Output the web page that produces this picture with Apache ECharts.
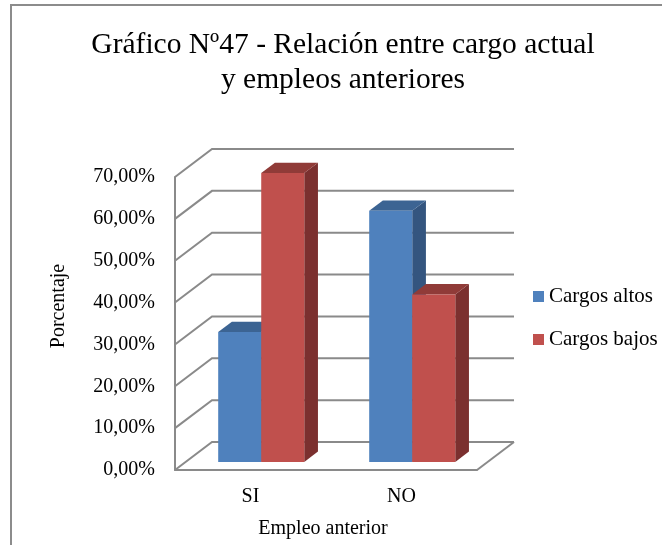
<!DOCTYPE html>
<html>
<head>
<meta charset="utf-8">
<script src="https://cdn.jsdelivr.net/npm/echarts@6/dist/echarts.min.js"></script>
<style>
  html, body { margin: 0; padding: 0; background: #fff; }
  #chart { width: 662px; height: 545px; }
</style>
</head>
<body>
<div id="chart"></div>
<script>
// Data
const categories = ['SI', 'NO'];
const seriesNames = ['Cargos altos', 'Cargos bajos'];
const cargosAltos = [0.31, 0.60];
const cargosBajos = [0.69, 0.40];
const yTicks = [0, 0.1, 0.2, 0.3, 0.4, 0.5, 0.6, 0.7];

// Styling / 3D projection constants
const FONT = 'Liberation Serif';
const DEPTH = [37, -28];      // pixel offset from front plane to back wall
const BAR_FRONT = 0.29;       // bar front face, as fraction of depth
const BAR_DEPTH = 0.37;       // bar thickness, as fraction of depth
const BAR_WIDTH = 0.285;      // bar width as fraction of category band
const GRID_COLOR = '#8a8a8a';
const faces = [
  { front: '#4F81BD', side: '#34557F', top: '#3C6493' },
  { front: '#C0504D', side: '#7B302F', top: '#903B38' }
];

const chart = echarts.init(document.getElementById('chart'), null, { renderer: 'canvas' });

// Side wall, back wall gridlines and floor edge, projected from the front plane
function renderWalls(params, api) {
  const band = api.size([1, 0])[0];
  const c0 = api.coord([0, 0]);
  const xl = c0[0] - band / 2;
  const xr = xl + band * categories.length;
  const children = [];
  yTicks.forEach(v => {
    const y = api.coord([0, v])[1];
    children.push({
      type: 'polyline',
      shape: { points: [[xl, y], [xl + DEPTH[0], y + DEPTH[1]], [xr + DEPTH[0], y + DEPTH[1]]] },
      style: { stroke: GRID_COLOR, lineWidth: 2, fill: null }
    });
  });
  const yb = c0[1];
  children.push({
    type: 'line',
    shape: { x1: xr, y1: yb, x2: xr + DEPTH[0], y2: yb + DEPTH[1] },
    style: { stroke: GRID_COLOR, lineWidth: 2 }
  });
  return { type: 'group', children: children, silent: true };
}

// Box-shaped bar: side face, top face, front face
function makeBarRenderer(sIdx) {
  return function (params, api) {
    const cat = api.value(0);
    const val = api.value(1);
    const band = api.size([1, 0])[0];
    const w = band * BAR_WIDTH;
    const base = api.coord([cat, 0]);
    const top = api.coord([cat, val]);
    const ox = DEPTH[0] * BAR_FRONT, oy = DEPTH[1] * BAR_FRONT;
    const bx = DEPTH[0] * BAR_DEPTH, by = DEPTH[1] * BAR_DEPTH;
    const x0 = base[0] - w + sIdx * w + ox;
    const x1 = x0 + w;
    const yb = base[1] + oy;
    const yt = top[1] + oy;
    const f = faces[sIdx];
    return {
      type: 'group',
      children: [
        {
          type: 'polygon',
          shape: { points: [[x1, yt], [x1 + bx, yt + by], [x1 + bx, yb + by], [x1, yb]] },
          style: { fill: f.side }
        },
        {
          type: 'polygon',
          shape: { points: [[x0, yt], [x0 + bx, yt + by], [x1 + bx, yt + by], [x1, yt]] },
          style: { fill: f.top }
        },
        {
          type: 'rect',
          shape: { x: x0, y: yt, width: w, height: yb - yt },
          style: { fill: f.front }
        }
      ]
    };
  };
}

const option = {
  animation: false,
  backgroundColor: '#ffffff',
  grid: { left: 175, top: 177, width: 302, height: 293, containLabel: false },
  xAxis: {
    type: 'category',
    data: categories,
    axisLine: { show: true, lineStyle: { color: GRID_COLOR, width: 2 } },
    axisTick: { show: false },
    axisLabel: { fontFamily: FONT, fontSize: 20, color: '#000', margin: 17 },
    splitLine: { show: false }
  },
  yAxis: {
    type: 'value',
    min: 0,
    max: 0.7,
    interval: 0.1,
    axisLine: { show: true, lineStyle: { color: GRID_COLOR, width: 2 } },
    axisTick: { show: false },
    splitLine: { show: false },
    axisLabel: {
      fontFamily: FONT, fontSize: 20, color: '#000', margin: 20,
      formatter: v => (v * 100).toFixed(2).replace('.', ',') + '%'
    }
  },
  legend: {
    orient: 'vertical',
    left: 533,
    top: 286,
    padding: 0,
    itemWidth: 11,
    itemHeight: 11,
    itemGap: 22,
    textStyle: { fontFamily: FONT, fontSize: 21, color: '#000' },
    data: seriesNames.map(n => ({ name: n, icon: 'rect' }))
  },
  graphic: [
    {
      type: 'rect', silent: true, z: -10,
      shape: { x: 11, y: 5, width: 900, height: 900 },
      style: { fill: null, stroke: '#8c8c8c', lineWidth: 2 }
    },
    {
      type: 'text', x: 343, y: 45,
      style: { text: 'Gráfico Nº47 - Relación entre cargo actual', font: '29.5px "Liberation Serif"', fill: '#000', align: 'center', verticalAlign: 'middle' }
    },
    {
      type: 'text', x: 343, y: 80,
      style: { text: 'y empleos anteriores', font: '29.5px "Liberation Serif"', fill: '#000', align: 'center', verticalAlign: 'middle' }
    },
    {
      type: 'text', x: 59, y: 306, rotation: Math.PI / 2,
      style: { text: 'Porcentaje', font: '20px "Liberation Serif"', fill: '#000', align: 'center', verticalAlign: 'middle' }
    },
    {
      type: 'text', x: 323, y: 529,
      style: { text: 'Empleo anterior', font: '20px "Liberation Serif"', fill: '#000', align: 'center', verticalAlign: 'middle' }
    }
  ],
  series: [
    {
      type: 'custom',
      name: 'walls',
      silent: true,
      renderItem: renderWalls,
      data: [[0, 0]],
      z: 1
    },
    {
      type: 'custom',
      name: seriesNames[0],
      renderItem: makeBarRenderer(0),
      itemStyle: { color: faces[0].front },
      data: categories.map((c, i) => [i, cargosAltos[i]]),
      z: 2
    },
    {
      type: 'custom',
      name: seriesNames[1],
      renderItem: makeBarRenderer(1),
      itemStyle: { color: faces[1].front },
      data: categories.map((c, i) => [i, cargosBajos[i]]),
      z: 2
    }
  ]
};

chart.setOption(option);
</script>
</body>
</html>
